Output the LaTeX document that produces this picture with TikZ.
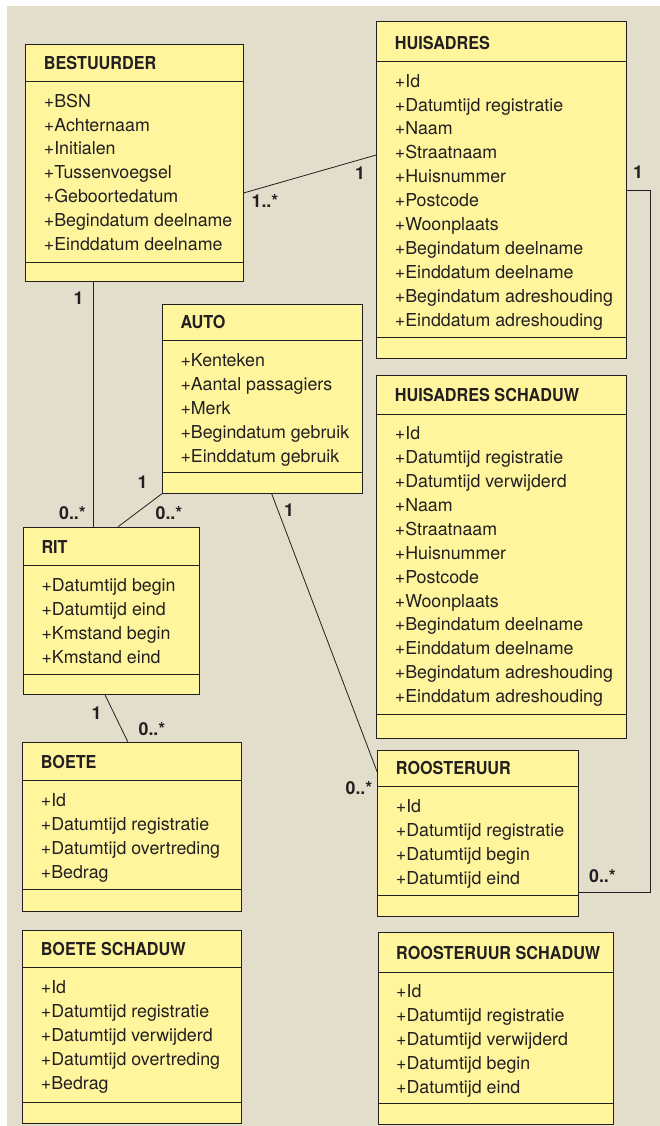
\documentclass[tikz,border=0pt]{standalone}
\usepackage{fontspec}
\setmainfont{TeX Gyre Heros}
\newfontfamily\condfont{TeX Gyre Heros}[FakeStretch=0.91]
\usetikzlibrary{fit}
\definecolor{bgbeige}{RGB}{227,221,203}
\definecolor{boxyellow}{RGB}{255,245,157}
\definecolor{ink}{RGB}{35,31,32}
\tikzset{
  classbox/.style={draw=ink, line width=1pt, fill=boxyellow, inner sep=0pt},
  divider/.style={draw=ink, line width=1pt},
  ctitle/.style={anchor=base west, inner sep=0pt, font=\condfont\bfseries\fontsize{17.8}{20}\selectfont, text=ink},
  cattr/.style={anchor=base west, inner sep=0pt, font=\fontsize{17.8}{20}\selectfont, text=ink},
  assoc/.style={draw=ink, line width=0.8pt},
  mult/.style={inner sep=0pt, font=\bfseries\fontsize{17.8}{20}\selectfont, text=ink},
}
% #1 name, #2 x1, #3 x2, #4 top, #5 header line, #6 separator, #7 bottom, #8 title, #9 attributes
\newcommand\umlclass[9]{%
  \node[classbox, fit={(#2,#4) (#3,#7)}] (#1) {};
  \draw[divider] (#1.west |- 0,#5) -- (#1.east |- 0,#5);
  \draw[divider] (#1.west |- 0,#6) -- (#1.east |- 0,#6);
  \node[ctitle] (#1-t) at (#2+18,#5-12.4) {#8};
  \foreach \t [count=\i] in {#9}
    \node[cattr] (#1-a\i) at (#2+18,#5+25.7+\i*23.9-23.9) {\t};
}
\begin{document}
\begin{tikzpicture}[x=1pt,y=-1pt]
\useasboundingbox (0,0) rectangle (660,1126);
\fill[white] (0,0) rectangle (660,1126);
\fill[bgbeige] (7,6) rectangle (660,1126);

\umlclass{bestuurder}{25.7}{243}{44.5}{81.5}{262}{281.7}{BESTUURDER}
  {+BSN,+Achternaam,+Initialen,+Tussenvoegsel,+Geboortedatum,+Begindatum deelname,+Einddatum deelname}
\umlclass{huisadres}{376.7}{626}{21.7}{61.5}{337.5}{358}{HUISADRES}
  {+Id,+Datumtijd registratie,+Naam,+Straatnaam,+Huisnummer,+Postcode,+Woonplaats,+Begindatum deelname,+Einddatum deelname,+Begindatum adreshouding,+Einddatum adreshouding}
\umlclass{huisschaduw}{376.7}{626}{375}{414}{714}{738}{HUISADRES SCHADUW}
  {+Id,+Datumtijd registratie,+Datumtijd verwijderd,+Naam,+Straatnaam,+Huisnummer,+Postcode,+Woonplaats,+Begindatum deelname,+Einddatum deelname,+Begindatum adreshouding,+Einddatum adreshouding}
\umlclass{auto}{162.3}{362.3}{304}{340.7}{472.3}{493.3}{AUTO}
  {+Kenteken,+Aantal passagiers,+Merk,+Begindatum gebruik,+Einddatum gebruik}
\umlclass{rit}{23.3}{199.3}{527.3}{565.7}{674}{694.3}{RIT}
  {+Datumtijd begin,+Datumtijd eind,+Kmstand begin,+Kmstand eind}
\umlclass{boete}{22.7}{241}{742.7}{780.7}{889}{911.7}{BOETE}
  {+Id,+Datumtijd registratie,+Datumtijd overtreding,+Bedrag}
\umlclass{boeteschaduw}{22.7}{241}{930}{967.7}{1102}{1123}{BOETE SCHADUW}
  {+Id,+Datumtijd registratie,+Datumtijd verwijderd,+Datumtijd overtreding,+Bedrag}
\umlclass{roosteruur}{377.7}{578}{750.7}{786.7}{895.7}{916.7}{ROOSTERUUR}
  {+Id,+Datumtijd registratie,+Datumtijd begin,+Datumtijd eind}
\umlclass{roosterschaduw}{378}{613}{932.7}{972}{1103}{1124}{ROOSTERUUR SCHADUW}
  {+Id,+Datumtijd registratie,+Datumtijd verwijderd,+Datumtijd begin,+Datumtijd eind}

% connectors
\draw[assoc] (bestuurder.east |- 0,193) -- (huisadres.west |- 0,155);
\draw[assoc] (bestuurder.south -| 93.7,0) -- (rit.north -| 93.7,0);
\draw[assoc] (auto.south west) -- (rit.north -| 118,0);
\draw[assoc] (auto.south -| 271.7,0) -- (roosteruur.west |- 0,772);
\draw[assoc] (rit.south -| 105,0) -- (boete.north -| 128,0);
\coordinate (rail) at (650,190);
\draw[assoc] (huisadres.east |- rail) -- (rail) -- (rail |- 0,892) -- (roosteruur.east |- 0,892);

% multiplicities
\node[mult] (m1) at (265,201.5) {1..*};
\node[mult] (m2) at (360,173.5) {1};
\node[mult] (m3) at (638,172) {1};
\node[mult] (m4) at (78.5,298.5) {1};
\node[mult] (m5) at (72.5,513) {0..*};
\node[mult] (m6) at (142.5,482) {1};
\node[mult] (m7) at (169,513) {0..*};
\node[mult] (m8) at (289,510) {1};
\node[mult] (m9) at (96.5,713.5) {1};
\node[mult] (m10) at (152,729) {0..*};
\node[mult] (m11) at (359,788.5) {0..*};
\node[mult] (m12) at (602.5,876.5) {0..*};
\end{tikzpicture}
\end{document}
